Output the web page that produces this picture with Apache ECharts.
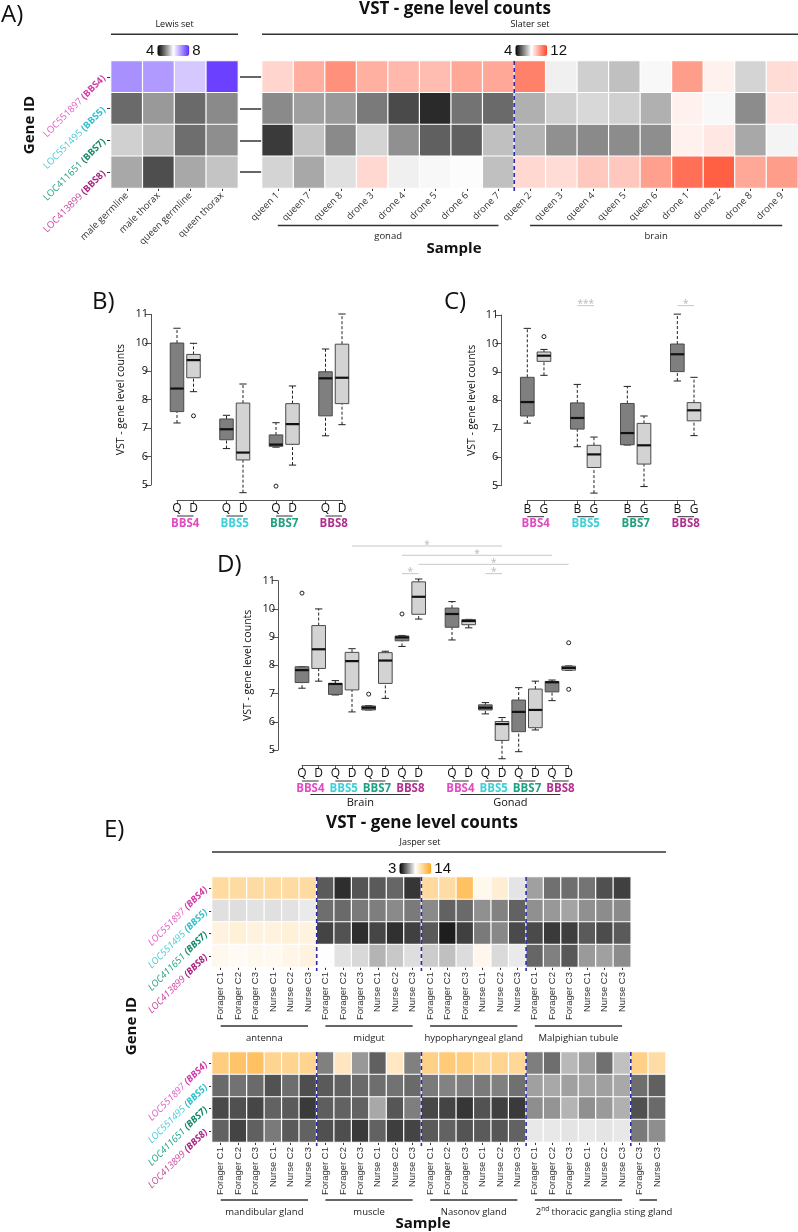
<!DOCTYPE html>
<html><head><meta charset="utf-8">
<script src="https://cdn.jsdelivr.net/npm/echarts@6/dist/echarts.min.js"></script>
<style>html,body{margin:0;padding:0;background:#fff}#c{width:798px;height:1232px}</style>
</head><body><div id="c"></div>
<script>
// ---------------- DATA ----------------
const geneIds = ['LOC551897', 'LOC551495', 'LOC411651', 'LOC413899'];
const bbsNames = ['BBS4', 'BBS5', 'BBS7', 'BBS8'];

// Panel A – Lewis set
const lewisSamples = ['male germline', 'male thorax', 'queen germline', 'queen thorax'];
const lewisBBS4 = [7.05, 6.96, 6.52, 7.8];
const lewisBBS5 = [4.83, 5.2, 4.83, 5.08];
const lewisBBS7 = [5.63, 5.44, 4.86, 5.11];
const lewisBBS8 = [5.32, 4.61, 5.32, 5.54];

// Panel A – Slater set
const slaterSamples = ['queen 1', 'queen 7', 'queen 8', 'drone 3', 'drone 4', 'drone 5', 'drone 6', 'drone 7',
  'queen 2', 'queen 3', 'queen 4', 'queen 5', 'queen 6', 'drone 1', 'drone 2', 'drone 8', 'drone 9'];
const slaterBBS4 = [8.9, 9.73, 10.37, 9.7, 9.52, 9.43, 9.86, 9.86, 10.7, 7.76, 7.25, 7.01, 7.89, 10.1, 8.3, 7.33, 8.75];
const slaterBBS5 = [6.16, 6.51, 6.42, 5.91, 5.16, 4.66, 5.8, 5.66, 6.76, 7.25, 7.39, 7.26, 6.76, 8.3, 7.89, 6.2, 8.58];
const slaterBBS7 = [4.91, 7.07, 6.16, 7.33, 6.26, 5.51, 5.51, 7.01, 6.82, 6.26, 6.16, 6.2, 6.23, 8.3, 8.5, 6.64, 7.83];
const slaterBBS8 = [7.33, 6.64, 7.51, 8.83, 7.76, 7.89, 7.95, 7.01, 8.83, 8.75, 9.18, 9.18, 10.03, 11.06, 11.4, 9.86, 10.1];
const slaterGroups = [['gonad', 0, 7], ['brain', 8, 16]];
const slaterBreaks = [8];

// Panel B – queen / drone
const bTicks = ['Q', 'D', '', 'Q', 'D', '', 'Q', 'D', '', 'Q', 'D'];
const bStats = [
  [7.18, 7.58, 8.39, 9.99, 10.51], [8.28, 8.77, 9.39, 9.59, 9.98],
  [6.28, 6.59, 6.96, 7.32, 7.45], [4.73, 5.88, 6.14, 7.88, 8.55],
  [6.33, 6.36, 6.42, 6.76, 7.19], [5.7, 6.43, 7.14, 7.86, 8.48],
  [6.73, 7.43, 8.75, 8.98, 9.78], [7.12, 7.86, 8.77, 9.95, 11.01]];
const bOutliers = [[1, 7.43], [4, 4.96]];

// Panel C – brain / gonad
const cTicks = ['B', 'G', '', 'B', 'G', '', 'B', 'G', '', 'B', 'G'];
const cStats = [
  [7.2, 7.45, 7.94, 8.81, 10.53], [8.88, 9.37, 9.57, 9.7, 9.79],
  [6.37, 6.99, 7.38, 7.91, 8.56], [4.74, 5.64, 6.1, 6.42, 6.71],
  [6.43, 6.44, 6.85, 7.89, 8.49], [4.97, 5.76, 6.42, 7.19, 7.45],
  [8.68, 9.01, 9.62, 9.98, 11.03], [6.76, 7.28, 7.65, 7.92, 8.81]];
const cOutliers = [[1, 10.24]];
const cSig = [[2, 3, 11.33, '***'], [6, 7, 11.33, '*']];

// Panel D – tissue x caste
const dTicks = ['Q', 'D', 'Q', 'D', 'Q', 'D', 'Q', 'D', '', 'Q', 'D', 'Q', 'D', 'Q', 'D', 'Q', 'D'];
const dStats = [
  [7.19, 7.39, 7.83, 7.95, 7.95], [7.44, 7.89, 8.57, 9.41, 10.0],
  [6.95, 6.97, 7.34, 7.36, 7.46], [6.35, 7.13, 8.15, 8.46, 8.59],
  [6.42, 6.42, 6.5, 6.56, 6.57], [6.83, 7.36, 8.17, 8.45, 8.5],
  [8.67, 8.87, 8.99, 9.04, 9.06], [9.64, 9.81, 10.43, 10.96, 11.06],
  [8.9, 9.35, 9.82, 10.03, 10.26], [9.33, 9.44, 9.57, 9.62, 9.63],
  [6.28, 6.42, 6.5, 6.6, 6.68], [4.69, 5.34, 5.92, 6.01, 6.15],
  [4.94, 5.65, 6.35, 6.77, 7.21], [5.71, 5.79, 6.42, 7.16, 7.44],
  [6.75, 7.06, 7.4, 7.43, 7.48], [7.82, 7.83, 7.91, 7.97, 7.98]];
const dOutliers = [[0, 10.56], [4, 6.98], [6, 9.82], [15, 8.8], [15, 7.15]];
const dSig = [[3, 11, 12.23, '*'], [6, 14, 11.9, '*'], [7, 15, 11.58, '*'], [6, 7, 11.25, '*'], [10, 11, 11.25, '*']];
const dTissues = [['Brain', 0, 7], ['Gonad', 8, 15]];

// Panel E – Jasper set
const jasperSamples = ['Forager C1', 'Forager C2', 'Forager C3', 'Nurse C1', 'Nurse C2', 'Nurse C3'];
const stingSamples = ['Forager C3', 'Nurse C3'];
const jTopTissues = ['antenna', 'midgut', 'hypopharyngeal gland', 'Malpighian tubule'];
const jBotTissues = ['mandibular gland', 'muscle', 'Nasonov gland', '2nd thoracic ganglia'];
const jSting = 'sting gland';
const jTopBBS4 = [10.8, 10.75, 10.75, 10.8, 10.8, 10.8, 4.94, 3.99, 4.83, 4.94, 5.2, 4.16, 10.9, 10.7, 12.4, 8.97, 9.56, 7.92, 6.45, 5.42, 5.37, 5.5, 4.73, 4.38];
const jTopBBS5 = [7.83, 7.79, 7.88, 7.83, 7.88, 8.05, 5.37, 5.29, 5.63, 5.72, 5.98, 5.63, 5.98, 5.11, 5.29, 6.1, 5.8, 5.11, 6.1, 6.28, 6.54, 6.1, 6.02, 5.98];
const jTopBBS7 = [9.26, 9.46, 9.26, 9.26, 9.46, 9.26, 4.47, 4.77, 3.99, 4.51, 4.04, 4.38, 4.94, 3.65, 4.38, 5.63, 5.93, 4.6, 4.6, 4.25, 4.34, 4.94, 4.64, 4.94];
const jTopBBS8 = [8.97, 8.77, 8.97, 8.87, 9.07, 9.26, 8.48, 7.88, 7.66, 6.88, 7.31, 7.79, 7.4, 7.14, 7.75, 9.0, 7.7, 8.05, 5.2, 5.76, 4.9, 6.32, 6.45, 6.02];
const jBotBBS4 = [11.63, 12.2, 12.4, 11.24, 11.24, 11.24, 5.76, 10.05, 6.28, 5.07, 9.97, 5.76, 11.43, 11.8, 11.63, 11.04, 11.24, 11.04, 5.72, 5.37, 6.97, 6.41, 5.42, 7.14, 11.43, 10.7];
const jBotBBS5 = [5.29, 5.46, 5.29, 4.77, 5.37, 4.69, 4.94, 5.11, 5.29, 5.37, 5.46, 5.29, 5.63, 5.8, 5.72, 5.63, 5.76, 5.42, 6.45, 6.63, 6.45, 6.54, 6.45, 6.63, 5.37, 5.07];
const jBotBBS7 = [4.6, 4.73, 4.51, 5.11, 4.94, 4.25, 5.03, 5.11, 5.11, 6.63, 4.86, 5.72, 4.56, 4.47, 4.16, 4.77, 4.38, 4.25, 6.06, 6.19, 6.88, 6.1, 6.32, 6.8, 4.73, 5.29];
const jBotBBS8 = [5.11, 4.47, 5.07, 5.63, 4.94, 5.11, 4.73, 4.69, 4.25, 5.11, 4.34, 4.47, 4.94, 5.11, 4.81, 4.94, 4.86, 5.11, 8.0, 8.0, 7.92, 8.0, 7.92, 8.0, 5.63, 6.06];

// ---------------- STYLE ----------------
const geneColors = ['#e35cc6', '#4acbd6', '#25a386', '#c8489f'];
const bbsBold = ['#d23ca8', '#2fc0cd', '#15886b', '#a92384'];
const bbsAxisColors = ['#e04cc2', '#3ed0d8', '#1fa182', '#b1308f'];
const FONT = '"Open Sans", "Noto Sans", sans-serif';
const boxFills = ['#7f7f7f', '#d3d3d3'];

function heatData(rows) {
  const d = [];
  rows.forEach((row, r) => row.forEach((v, c) => d.push([c, r, v])));
  return d;
}
function positions(ticks) { return ticks.map((t, i) => t ? i : -1).filter(i => i >= 0); }

function geneRich(size, italic) {
  const r = {};
  geneIds.forEach((g, i) => {
    r['g' + i] = { color: geneColors[i], fontSize: size, fontStyle: italic ? 'italic' : 'normal', fontFamily: FONT };
    r['b' + i] = { color: bbsBold[i], fontSize: size, fontWeight: 'bold', fontStyle: italic ? 'italic' : 'normal', fontFamily: FONT };
  });
  return r;
}

function heatXAxis(gi, data, o) {
  return {
    type: 'category', gridIndex: gi, data: data, position: 'bottom',
    axisLine: { show: false }, splitLine: { show: false }, splitArea: { show: false },
    axisTick: { show: true, alignWithLabel: true, interval: 0, length: o.tick, lineStyle: { color: '#333', width: 1 } },
    axisLabel: { interval: 0, rotate: o.rotate, fontSize: o.size, fontFamily: o.family, color: '#333', margin: o.margin }
  };
}
function heatYAxis(gi, o) {
  return {
    type: 'category', gridIndex: gi, data: geneIds, inverse: true,
    axisLine: { show: false }, splitLine: { show: false }, splitArea: { show: false },
    axisTick: { show: true, alignWithLabel: true, interval: 0, length: o.tick, lineStyle: { color: o.tickColor || '#333', width: o.tickWidth || 1 } },
    axisLabel: o.noLabel ? { show: false } : {
      interval: 0, rotate: 45, margin: o.margin || 5,
      formatter: (v, i) => '{g' + i + '|' + geneIds[i] + ' }{b' + i + '|(' + bbsNames[i] + ')}',
      rich: geneRich(o.size, o.italic)
    }
  };
}
function boxXAxis(gi, ticks) {
  return {
    type: 'category', gridIndex: gi, data: ticks, boundaryGap: false, offset: 15,
    axisLine: { show: true, lineStyle: { color: '#555', width: 1 } },
    axisTick: { show: true, interval: (i, v) => v !== '', length: 4, lineStyle: { color: '#555' } },
    axisLabel: { interval: (i, v) => v !== '', fontSize: 12, color: '#111', margin: 3, fontFamily: FONT },
    splitLine: { show: false }
  };
}
function boxYAxis(gi, off) {
  return {
    type: 'value', gridIndex: gi, min: 5, max: 11, interval: 1, offset: off,
    axisLine: { show: true, lineStyle: { color: '#555', width: 1 } },
    axisTick: { show: true, length: 6, lineStyle: { color: '#555' } },
    axisLabel: { fontSize: 11, color: '#111', margin: 3, fontFamily: FONT },
    splitLine: { show: false },
    name: 'VST - gene level counts', nameLocation: 'middle', nameGap: 24,
    nameTextStyle: { fontSize: 10.5, color: '#111', fontFamily: FONT }
  };
}

function sepRender(params, api) {
  const i = api.value(0);
  const a = api.coord([i - 1, 0]), b = api.coord([i, 0]);
  const x = (a[0] + b[0]) / 2, cs = params.coordSys;
  return { type: 'line', shape: { x1: x, y1: cs.y, x2: x, y2: cs.y + cs.height + 4 },
    style: { stroke: '#2a2aaa', lineWidth: 1.6, lineDash: [4, 3] } };
}
function spanRender(groups, lineOff, textOff, fontSize) {
  return function (params, api) {
    const g = groups[params.dataIndex];
    const a = api.coord([g[1], 0]), b = api.coord([g[2], 0]);
    const cs = params.coordSys, yb = cs.y + cs.height;
    const txt = g[0].replace(/^(\d+)(nd)\b/, '$1{sup|$2}');
    return { type: 'group', children: [
      { type: 'line', shape: { x1: a[0], y1: yb + lineOff, x2: b[0], y2: yb + lineOff }, style: { stroke: '#333', lineWidth: 1.5 } },
      { type: 'text', style: { text: txt, x: (a[0] + b[0]) / 2, y: yb + textOff, align: 'center', verticalAlign: 'middle',
        fontSize: fontSize, fontFamily: FONT, fill: '#222',
        rich: { sup: { fontSize: 6.5, fontFamily: FONT, fill: '#222', verticalAlign: 'top', lineHeight: 12 } } } }
    ] };
  };
}
function boxRender(params, api) {
  const x = api.value(0);
  const p = [1, 2, 3, 4, 5].map(k => api.coord([x, api.value(k)]));
  const unit = api.coord([1, 5])[0] - api.coord([0, 5])[0];
  const hw = unit * 0.41, cw = unit * 0.22, cx = p[0][0];
  const fill = boxFills[params.dataIndex % 2];
  const dash = { stroke: '#222', lineWidth: 1, lineDash: [3, 2] };
  const solid = { stroke: '#222', lineWidth: 1 };
  return { type: 'group', children: [
    { type: 'line', shape: { x1: cx, y1: p[0][1], x2: cx, y2: p[1][1] }, style: dash },
    { type: 'line', shape: { x1: cx, y1: p[3][1], x2: cx, y2: p[4][1] }, style: dash },
    { type: 'line', shape: { x1: cx - cw, y1: p[0][1], x2: cx + cw, y2: p[0][1] }, style: solid },
    { type: 'line', shape: { x1: cx - cw, y1: p[4][1], x2: cx + cw, y2: p[4][1] }, style: solid },
    { type: 'rect', shape: { x: cx - hw, y: p[3][1], width: 2 * hw, height: p[1][1] - p[3][1] }, style: { fill: fill, stroke: '#4a4a4a', lineWidth: 1 } },
    { type: 'line', shape: { x1: cx - hw, y1: p[2][1], x2: cx + hw, y2: p[2][1] }, style: { stroke: '#111', lineWidth: 2.2 } }
  ] };
}
function outlierRender(params, api) {
  const p = api.coord([api.value(0), api.value(1)]);
  return { type: 'circle', shape: { cx: p[0], cy: p[1], r: 2 }, style: { fill: 'none', stroke: '#222', lineWidth: 1 } };
}
function annotRender(groups, pos, supers) {
  return function (params, api) {
    const cs = params.coordSys, base = cs.y + cs.height + 15;
    const i = params.dataIndex;
    if (i < groups.length) {
      const g = groups[i];
      const a = api.coord([pos[g[1]], 5]), b = api.coord([pos[g[2]], 5]);
      return { type: 'group', children: [
        { type: 'line', shape: { x1: a[0], y1: base + 16, x2: b[0], y2: base + 16 }, style: { stroke: '#333', lineWidth: 1 } },
        { type: 'text', style: { text: g[0], x: (a[0] + b[0]) / 2, y: base + 23.5, align: 'center', verticalAlign: 'middle',
          fontSize: 11.5, fontWeight: 'bold', fontFamily: FONT, fill: bbsAxisColors[i % 4] } }
      ] };
    }
    const s = supers[i - groups.length];
    const a1 = api.coord([pos[s[1]], 5]), a2 = api.coord([pos[s[1] + 1], 5]);
    const b1 = api.coord([pos[s[2] - 1], 5]), b2 = api.coord([pos[s[2]], 5]);
    const xa = (a1[0] + a2[0]) / 2, xb = (b1[0] + b2[0]) / 2;
    return { type: 'group', children: [
      { type: 'line', shape: { x1: xa, y1: base + 29.5, x2: xb, y2: base + 29.5 }, style: { stroke: '#333', lineWidth: 1 } },
      { type: 'text', style: { text: s[0], x: (xa + xb) / 2, y: base + 38, align: 'center', verticalAlign: 'middle',
        fontSize: 11, fontFamily: FONT, fill: '#111' } }
    ] };
  };
}
function sigRender(sigs, pos) {
  return function (params, api) {
    const s = sigs[params.dataIndex];
    const a = api.coord([pos[s[0]], s[2]]), b = api.coord([pos[s[1]], s[2]]);
    return { type: 'group', children: [
      { type: 'line', shape: { x1: a[0], y1: a[1], x2: b[0], y2: b[1] }, style: { stroke: '#c8c8c8', lineWidth: 1 } },
      { type: 'text', style: { text: s[3], x: (a[0] + b[0]) / 2, y: a[1] - 1, align: 'center', verticalAlign: 'middle',
        fontSize: 10, fontFamily: FONT, fill: '#b8b8b8' } }
    ] };
  };
}

// ---------------- BUILD ----------------
const grids = [
  { left: 111, top: 61, width: 127, height: 127 },
  { left: 262, top: 61, width: 536, height: 127 },
  { left: 177, top: 314.3, width: 165, height: 170.7 },
  { left: 527.3, top: 315, width: 166.7, height: 170.7 },
  { left: 302, top: 580.7, width: 266.7, height: 169.3 },
  { left: 212, top: 877, width: 418.8, height: 90 },
  { left: 212, top: 1052, width: 453.7, height: 90 }
].map(g => Object.assign({ containLabel: false, outerBoundsMode: 'none' }, g));

const jTopX = jTopTissues.flatMap(() => jasperSamples);
const jBotX = jBotTissues.flatMap(() => jasperSamples).concat(stingSamples);
const jTopGroups = jTopTissues.map((t, k) => [t, 6 * k, 6 * k + 5]);
const jBotGroups = jBotTissues.map((t, k) => [t, 6 * k, 6 * k + 5]).concat([[jSting, 24, 25]]);
const jTopBreaks = [6, 12, 18];
const jBotBreaks = [6, 12, 18, 24];

const xAxes = [
  heatXAxis(0, lewisSamples, { tick: 3, rotate: 45, size: 9.5, family: FONT, margin: 6 }),
  heatXAxis(1, slaterSamples, { tick: 3, rotate: 45, size: 9.5, family: FONT, margin: 6 }),
  boxXAxis(2, bTicks), boxXAxis(3, cTicks), boxXAxis(4, dTicks),
  heatXAxis(5, jTopX, { tick: 3, rotate: 90, size: 9.5, family: '"Liberation Sans", Arial, sans-serif', margin: 5 }),
  heatXAxis(6, jBotX, { tick: 3, rotate: 90, size: 9.5, family: '"Liberation Sans", Arial, sans-serif', margin: 5 })
];
const yAxes = [
  heatYAxis(0, { tick: 4, size: 9.5, italic: false, margin: 7 }),
  heatYAxis(1, { tick: 22, noLabel: true, tickColor: '#666', tickWidth: 2 }),
  boxYAxis(2, 26), boxYAxis(3, 26), boxYAxis(4, 24),
  heatYAxis(5, { tick: 3, size: 9.5, italic: true, margin: 6 }),
  heatYAxis(6, { tick: 3, size: 9.5, italic: true, margin: 6 })
];

const series = [];
function add(s) { series.push(Object.assign({ silent: true, animation: false }, s)); return series.length - 1; }
const heatStyle = { borderColor: '#ffffff', borderWidth: 1.2 };

const sLewis = add({ type: 'heatmap', xAxisIndex: 0, yAxisIndex: 0, data: heatData([lewisBBS4, lewisBBS5, lewisBBS7, lewisBBS8]), itemStyle: heatStyle, emphasis: { disabled: true } });
const sSlater = add({ type: 'heatmap', xAxisIndex: 1, yAxisIndex: 1, data: heatData([slaterBBS4, slaterBBS5, slaterBBS7, slaterBBS8]), itemStyle: heatStyle, emphasis: { disabled: true } });
add({ type: 'custom', xAxisIndex: 1, yAxisIndex: 1, data: slaterBreaks.map(b => [b, 0]), renderItem: sepRender, clip: false, z: 5 });
add({ type: 'custom', xAxisIndex: 1, yAxisIndex: 1, data: slaterGroups.map(g => [g[1], 0]), renderItem: spanRender(slaterGroups, 37.5, 48.5, 9.5), clip: false });

function addBoxPanel(gi, ticks, stats, outliers, sigs, supers) {
  const pos = positions(ticks);
  add({ type: 'custom', xAxisIndex: gi, yAxisIndex: gi, data: stats.map((s, k) => [pos[k]].concat(s)),
    encode: { x: 0, y: [1, 2, 3, 4, 5] }, renderItem: boxRender, clip: false });
  add({ type: 'custom', xAxisIndex: gi, yAxisIndex: gi, data: outliers.map(o => [pos[o[0]], o[1]]),
    renderItem: outlierRender, clip: false });
  const groups = [];
  for (let k = 0; k < stats.length / 2; k++) groups.push([bbsNames[k % 4], 2 * k, 2 * k + 1]);
  const sup = supers || [];
  add({ type: 'custom', xAxisIndex: gi, yAxisIndex: gi,
    data: groups.map(g => [pos[g[1]], 5]).concat(sup.map(s => [pos[s[1]], 5])),
    renderItem: annotRender(groups, pos, sup), clip: false });
  if (sigs) add({ type: 'custom', xAxisIndex: gi, yAxisIndex: gi, data: sigs.map(s => [pos[s[0]], s[2]]),
    renderItem: sigRender(sigs, pos), clip: false });
}
addBoxPanel(2, bTicks, bStats, bOutliers, null, null);
addBoxPanel(3, cTicks, cStats, cOutliers, cSig, null);
addBoxPanel(4, dTicks, dStats, dOutliers, dSig, dTissues);

const sJTop = add({ type: 'heatmap', xAxisIndex: 5, yAxisIndex: 5, data: heatData([jTopBBS4, jTopBBS5, jTopBBS7, jTopBBS8]), itemStyle: heatStyle, emphasis: { disabled: true } });
add({ type: 'custom', xAxisIndex: 5, yAxisIndex: 5, data: jTopBreaks.map(b => [b, 0]), renderItem: sepRender, clip: false, z: 5 });
add({ type: 'custom', xAxisIndex: 5, yAxisIndex: 5, data: jTopGroups.map(g => [g[1], 0]), renderItem: spanRender(jTopGroups, 59, 71, 9.5), clip: false });
const sJBot = add({ type: 'heatmap', xAxisIndex: 6, yAxisIndex: 6, data: heatData([jBotBBS4, jBotBBS5, jBotBBS7, jBotBBS8]), itemStyle: heatStyle, emphasis: { disabled: true } });
add({ type: 'custom', xAxisIndex: 6, yAxisIndex: 6, data: jBotBreaks.map(b => [b, 0]), renderItem: sepRender, clip: false, z: 5 });
add({ type: 'custom', xAxisIndex: 6, yAxisIndex: 6, data: jBotGroups.map(g => [g[1], 0]), renderItem: spanRender(jBotGroups, 58, 70, 9.5), clip: false });

const vmText = { fontSize: 15, color: '#111', fontFamily: '"Liberation Sans", Arial, sans-serif' };
function vm(idx, min, max, colors, left, top) {
  return { type: 'continuous', seriesIndex: idx, min: min, max: max, orient: 'horizontal', left: left, top: top,
    itemWidth: 11, itemHeight: 32, text: [String(max), String(min)], textGap: 3, calculable: false, hoverLink: false,
    inRange: { color: colors }, textStyle: vmText, padding: 0 };
}

function T(text, x, y, font, opts) {
  return Object.assign({ type: 'text', x: x, y: y, silent: true,
    style: { text: text, font: font, fill: '#111', align: 'center', verticalAlign: 'middle', textAlign: 'center', textVerticalAlign: 'middle' } }, opts || {});
}
function L(x1, y1, x2, y2, w) { return { type: 'line', silent: true, shape: { x1, y1, x2, y2 }, style: { stroke: '#333', lineWidth: w || 1.5 } }; }
const boldTitle = 'bold 17px "Open Sans", sans-serif';
const panelFont = '24px "Open Sans", sans-serif';
const axisTitle = 'bold 15px "Open Sans", sans-serif';
const small = '9px "Open Sans", sans-serif';
const leftT = (text, x, y) => { const t = T(text, x, y, panelFont); t.style.align = 'left'; t.style.textAlign = 'left'; return t; };

const graphics = [
  leftT('A)', 1, 15),
  T('VST - gene level counts', 455, 9, boldTitle),
  T('Lewis set', 174.5, 24.5, small), L(111, 34.3, 238, 34.3),
  T('Slater set', 530, 24.5, small), L(262, 34.3, 798, 34.3),
  T('Gene ID', 30, 125, axisTitle, { rotation: Math.PI / 2 }),
  T('Sample', 454, 249, axisTitle),
  leftT('B)', 92, 302), leftT('C)', 444, 302), leftT('D)', 217, 565),
  leftT('E)', 104, 830),
  T('VST - gene level counts', 422, 823, boldTitle),
  T('Jasper set', 420, 842, small), L(212, 852, 666, 852),
  T('Gene ID', 132, 1026, axisTitle, { rotation: Math.PI / 2 }),
  T('Sample', 423, 1224, axisTitle)
];

const option = {
  animation: false,
  backgroundColor: '#ffffff',
  grid: grids,
  xAxis: xAxes,
  yAxis: yAxes,
  visualMap: [
    vm(sLewis, 4, 8, ['#000000', '#ffffff', '#5a2cff'], 146, 43),
    vm(sSlater, 4, 12, ['#000000', '#ffffff', '#ff4422'], 504, 43),
    vm([sJTop, sJBot], 3, 14, ['#000000', '#ffffff', '#ffa820'], 388, 861)
  ],
  graphic: { elements: graphics },
  series: series
};

const chart = echarts.init(document.getElementById('c'), null, { renderer: 'canvas' });
chart.setOption(option);
</script></body></html>
